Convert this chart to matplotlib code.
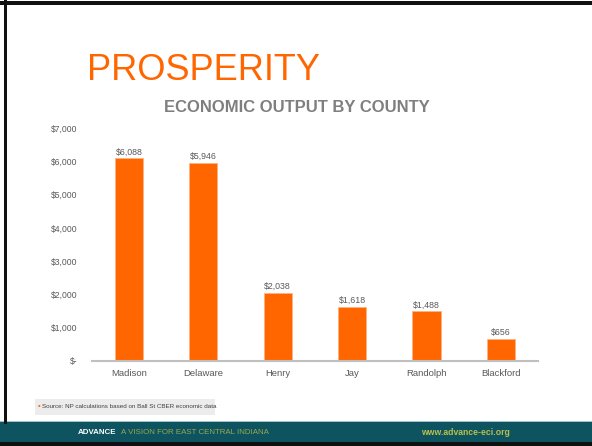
import matplotlib.pyplot as plt
from matplotlib import font_manager
from matplotlib.patches import Rectangle

counties = ["Madison", "Delaware", "Henry", "Jay", "Randolph", "Blackford"]
output = [6088, 5946, 2038, 1618, 1488, 656]
yticks = [0, 1000, 2000, 3000, 4000, 5000, 6000, 7000]
ytick_labels = ["$-", "$1,000", "$2,000", "$3,000", "$4,000", "$5,000", "$6,000", "$7,000"]

orange = "#ff6600"
gray = "#595959"

# pick a narrow face if one is installed
installed = {f.name for f in font_manager.fontManager.ttflist}
narrow = [n for n in ["Liberation Sans Narrow", "DejaVu Sans Condensed"] if n in installed]
narrow = narrow + ["Liberation Sans", "DejaVu Sans"]
plt.rcParams['font.family'] = ["Liberation Sans", "DejaVu Sans"]

fig = plt.figure(figsize=(5.92, 4.46), dpi=100)
ax = fig.add_axes([0.155, 0.1906, 0.754, 0.5224])

x = range(len(counties))
ax.bar(x, output, width=0.38, color=orange, edgecolor="#ffb380", linewidth=0.6)
for i, v in enumerate(output):
    ax.text(i, v + 60, "${:,}".format(v), ha="center", va="bottom",
            fontsize=6.3, color=gray, family=narrow)

ax.set_xlim(-0.5, len(counties) - 0.5)
ax.set_ylim(0, 7000)
ax.set_yticks(yticks)
ax.set_yticklabels(ytick_labels, family=narrow, fontsize=6.2, color=gray)
ax.set_xticks(list(x))
ax.set_xticklabels(counties, family=narrow, fontsize=6.8, color=gray)
ax.tick_params(axis="both", length=0)
ax.tick_params(axis="y", pad=10)
ax.tick_params(axis="x", pad=6)
for side in ["top", "right", "left"]:
    ax.spines[side].set_visible(False)
ax.spines["bottom"].set_color("#bfbfbf")
ax.spines["bottom"].set_linewidth(1.5)

# slide decorations
fig.text(0.147, 0.843, "PROSPERITY", fontsize=26, color=orange, va="center")
fig.text(0.502, 0.760, "ECONOMIC OUTPUT BY COUNTY", fontsize=12, color="#7f7f7f",
         ha="center", va="center", fontweight="bold", family=narrow)

fig.patches.append(Rectangle((0.059, 0.070), 0.305, 0.036, transform=fig.transFigure,
                             facecolor="#ececec", edgecolor="none"))
fig.text(0.064, 0.088, "\u2022", fontsize=5.5, color=orange, va="center")
fig.text(0.071, 0.088, "Source: NP calculations based on Ball St CBER economic data",
         fontsize=4.5, color="#404040", va="center", family=narrow)

fig.patches.append(Rectangle((0, 0.009), 1, 0.046, transform=fig.transFigure,
                             facecolor="#0e5460", edgecolor="none"))
fig.patches.append(Rectangle((0, 0.053), 1, 0.003, transform=fig.transFigure,
                             facecolor="#9fc3c8", edgecolor="none"))
fig.patches.append(Rectangle((0, 0), 1, 0.009, transform=fig.transFigure,
                             facecolor="#101010", edgecolor="none"))
fig.patches.append(Rectangle((0, 0.989), 1, 0.009, transform=fig.transFigure,
                             facecolor="#111111", edgecolor="none"))
fig.patches.append(Rectangle((0.006, 0.05), 0.006, 0.95, transform=fig.transFigure,
                             facecolor="#111111", edgecolor="none"))

fig.text(0.131, 0.031, "ADVANCE", fontsize=5.7, color="white", fontweight="bold", va="center")
fig.text(0.205, 0.031, "A VISION FOR EAST CENTRAL INDIANA", fontsize=5.7,
         color="#9aa84a", va="center")
fig.text(0.711, 0.031, "www.advance-eci.org", fontsize=6.2, color="#b8c04e",
         va="center", fontweight="bold")

fig.savefig("out.png", dpi=100)
